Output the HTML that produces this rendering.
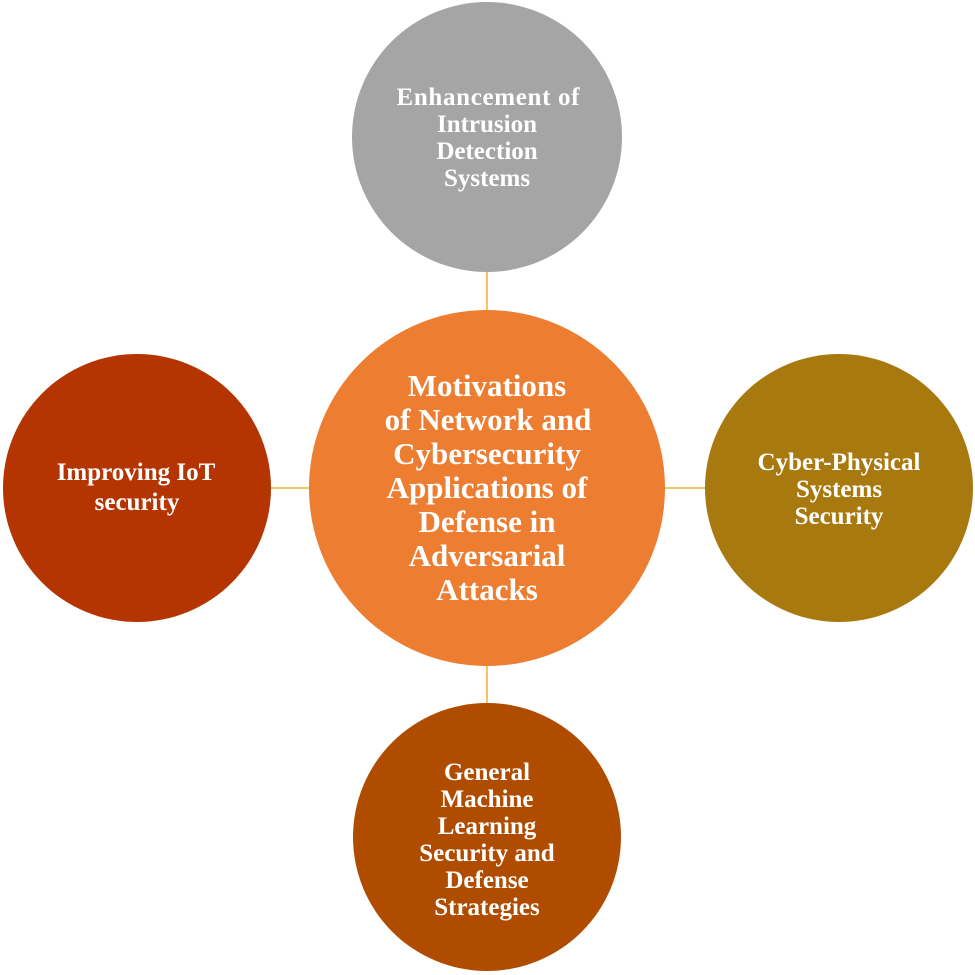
<!DOCTYPE html>
<html><head><meta charset="utf-8"><style>
body{margin:0;background:#fff;}
</style></head><body>
<svg width="975" height="975" xmlns="http://www.w3.org/2000/svg" style="display:block">
<g stroke="#f2b134" stroke-width="1.5">
<line x1="487" y1="270" x2="487" y2="312"/>
<line x1="487" y1="664" x2="487" y2="705"/>
<line x1="270" y1="488" x2="310" y2="488"/>
<line x1="664" y1="488" x2="706" y2="488"/>
</g>
<circle cx="487" cy="137" r="135" fill="#a5a5a5"/>
<circle cx="487" cy="488" r="178" fill="#ed7d31"/>
<circle cx="137" cy="488" r="134" fill="#b43402"/>
<circle cx="839" cy="488" r="134" fill="#a8790e"/>
<circle cx="487" cy="837" r="134" fill="#b04c00"/>
<g font-family="Liberation Serif, serif" font-weight="bold" fill="#fff" text-anchor="middle" font-size="25">
<text x="488" y="105" textLength="183" lengthAdjust="spacing">Enhancement of</text>
<text x="487" y="132">Intrusion</text>
<text x="487" y="159">Detection</text>
<text x="487" y="186">Systems</text>
<text x="136" y="480">Improving IoT</text>
<text x="137" y="510">security</text>
<text x="839" y="470">Cyber-Physical</text>
<text x="839" y="497">Systems</text>
<text x="839" y="524">Security</text>
<text x="487" y="780">General</text>
<text x="487" y="807">Machine</text>
<text x="487" y="834">Learning</text>
<text x="487" y="861">Security and</text>
<text x="487" y="888">Defense</text>
<text x="487" y="915">Strategies</text>
<g font-size="31">
<text x="487" y="396">Motivations</text>
<text x="488" y="430">of Network and</text>
<text x="487" y="464">Cybersecurity</text>
<text x="487" y="498">Applications of</text>
<text x="487" y="532">Defense in</text>
<text x="487" y="566">Adversarial</text>
<text x="487" y="600">Attacks</text>
</g>
</g>
</svg>
</body></html>
